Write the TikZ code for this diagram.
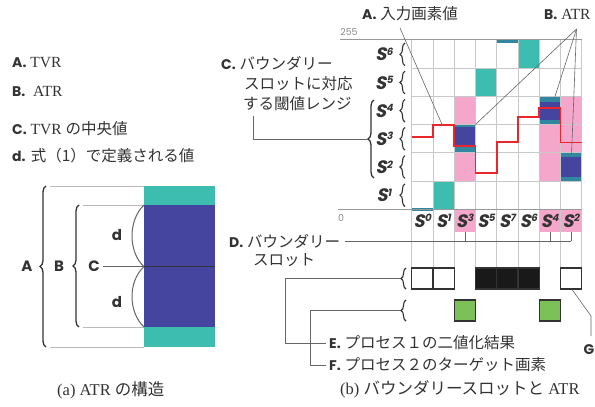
\documentclass[tikz,border=0pt]{standalone}
\usepackage{fontspec}
\setmainfont{Liberation Serif}
\newfontfamily\jp{Noto Sans CJK JP}
\newfontfamily\geo{Poppins}
\newfontfamily\geosl{Poppins}[FakeSlant=0.2]
\usetikzlibrary{decorations.pathreplacing}
\definecolor{tvr}{HTML}{3DBDB0}
\definecolor{atr}{HTML}{45449E}
\definecolor{tvrd}{HTML}{3286A0}
\definecolor{pinkc}{HTML}{F4A7CB}
\definecolor{redl}{HTML}{E8262C}
\definecolor{greenc}{HTML}{7CC157}
\definecolor{gridc}{HTML}{C8C8C8}
\definecolor{txt}{HTML}{333333}
\definecolor{connc}{HTML}{666666}
\definecolor{lgray}{HTML}{BBBBBB}
\newcommand\lab[1]{{\geo\bfseries\fontsize{14}{16}\selectfont #1.}}
\newcommand\Sl[1]{{\geosl\bfseries\fontsize{18}{20}\selectfont S\raisebox{0.3em}{\fontsize{10}{11}\selectfont #1}}}
\begin{document}
\begin{tikzpicture}[x=1pt,y=-1pt,
  lbl/.style={inner sep=0pt, anchor=west, text=txt, font=\fontsize{15.5}{18}\selectfont},
  captxt/.style={inner sep=0pt, anchor=west, text=txt, font=\fontsize{16.5}{19}\selectfont},
  conn/.style={draw=connc, line width=0.6pt},
  gridln/.style={draw=gridc, line width=0.6pt},
  sbrace/.style={decorate, decoration={brace, amplitude=5pt}, draw=txt, line width=1.1pt},
  bbrace/.style={decorate, decoration={brace, amplitude=6pt}, draw=txt, line width=1.3pt},
  binbox/.style={draw=txt, line width=1.3pt},
  slab/.style={inner sep=0pt, text=txt}]
\useasboundingbox (0,0) rectangle (595,407);
\fill[white] (0,0) rectangle (595,407);

% ---------------- (a) ----------------
\node[lbl] (la) at (12,63) {\lab{A} TVR};
\node[lbl] (lb) at (12,91.5) {\lab{B}\ \ ATR};
\node[lbl] (lc) at (12,128.5) {\lab{C} TVR {\jp の中央値}};
\node[lbl] (ld) at (12,156) {\lab{d} {\jp 式（1）で定義される値}};

\fill[tvr] (144,186) rectangle (215,347);
\fill[atr] (144,205) rectangle (215,327);
\draw[lgray, line width=0.8pt] (50,186) -- (144,186);
\draw[lgray, line width=0.8pt] (50,347) -- (144,347);
\draw[lgray, line width=0.8pt] (83,205) -- (144,205);
\draw[lgray, line width=0.8pt] (83,327) -- (144,327);
\draw[connc, line width=0.7pt] (103,266.7) -- (144,266.7);
\draw[txt, line width=0.6pt] (144,266.7) -- (215,266.7);
\draw[connc, line width=1pt] (144,205) .. controls (128,220) and (128,252) .. (144,266.7);
\draw[connc, line width=1pt] (144,266.7) .. controls (128,281) and (128,312) .. (144,327);
\draw[bbrace] (46,347) -- (46,186);
\draw[bbrace] (79,327) -- (79,205);
\node[slab] (bA) at (27,266.7) {\geo\bfseries\fontsize{15}{16}\selectfont A};
\node[slab] (bB) at (59,266.7) {\geo\bfseries\fontsize{15}{16}\selectfont B};
\node[slab] (bC) at (94,266.7) {\geo\bfseries\fontsize{15}{16}\selectfont C};
\node[slab] (d1) at (117,235) {\geo\bfseries\fontsize{15}{16}\selectfont d};
\node[slab] (d2) at (117,302) {\geo\bfseries\fontsize{15}{16}\selectfont d};
\node[captxt] (capa) at (57,390) {(a) ATR {\jp の構造}};

% ---------------- (b) ----------------
% cell fills
\fill[tvr] (432.95,180.83) rectangle (454.2,209);
\fill[tvr] (475.45,68.17) rectangle (496.7,96.33);
\fill[tvr] (517.95,40) rectangle (539.2,68.17);
\fill[tvrd] (496.7,40) rectangle (517.95,42.5);
\fill[tvrd] (411.7,207.5) rectangle (432.95,210.5);
% column S3
\fill[pinkc] (454.2,96.33) rectangle (475.45,124.5);
\fill[pinkc] (454.2,152.67) rectangle (475.45,180.83);
\fill[tvrd] (454.2,124.5) rectangle (475.45,152.67);
\fill[atr] (454.2,127) rectangle (475.45,147);
% column S4
\fill[pinkc] (539.2,124.5) rectangle (560.45,180.83);
\fill[tvrd] (539.2,96.33) rectangle (560.45,124.5);
\fill[atr] (539.2,101.5) rectangle (560.45,120);
% column S2
\fill[pinkc] (560.45,96.33) rectangle (581.7,152.67);
\fill[tvrd] (560.45,152.67) rectangle (581.7,180.83);
\fill[atr] (560.45,157) rectangle (581.7,176.5);
% label row pink
\fill[pinkc] (454.2,209) rectangle (475.45,232);
\fill[pinkc] (539.2,209) rectangle (560.45,232);
\fill[pinkc] (560.45,209) rectangle (581.7,232);

% grid
\foreach \i in {0,...,8} \draw[gridln] ({411.7+21.25*\i},40) -- ({411.7+21.25*\i},268);
\foreach \j in {1,...,5} \draw[gridln] (411.7,{40+28.1667*\j}) -- (581.7,{40+28.1667*\j});
\draw[draw=gray!80, line width=0.8pt] (340,39.5) -- (581.7,39.5);
\draw[draw=gray!80, line width=1pt] (338,209) -- (581.7,209);
\node[slab, text=gray!90] (v255) at (349,32) {\geo\fontsize{9.5}{10}\selectfont 255};
\node[slab, text=gray!90] (v0) at (341,218) {\geo\fontsize{9.5}{10}\selectfont 0};

% red input step line
\draw[redl, line width=1.8pt] (411.7,137) -- (432.95,137) -- (432.95,125) -- (454.2,125) -- (454.2,146) -- (475.45,146) -- (475.45,173) -- (496.7,173) -- (496.7,142) -- (517.95,142) -- (517.95,117) -- (539.2,117) -- (539.2,108) -- (560.45,108) -- (560.45,142.5) -- (581.7,142.5);

% row labels
\foreach \k/\r in {6/0,5/1,4/2,3/3,2/4,1/5} {
  \node[slab] (rs\k) at (384,{40+28.1667*\r+14.5}) {\Sl{\k}};
  \draw[sbrace] (405,{40+28.1667*(\r+1)-2.5}) -- (405,{40+28.1667*\r+3});
}
\draw[bbrace] (374,178) -- (374,100);

% column labels
\foreach \k [count=\c from 0] in {0,1,3,5,7,6,4,2}
  \node[slab] (cs\k) at ({411.7+21.25*\c+10.6},221) {\Sl{\k}};

% binary boxes
\foreach \c/\f in {0/white,1/white,3/black!90,4/black!90,5/black!90,7/white}
  \draw[binbox, fill=\f] ({411.7+21.25*\c},268) rectangle ({411.7+21.25*(\c+1)},289);
\foreach \c in {2,6}
  \draw[binbox, fill=greenc] ({411.7+21.25*\c},300) rectangle ({411.7+21.25*(\c+1)},321);
\draw[sbrace] (406,289) -- (406,268);
\draw[sbrace] (406,321) -- (406,300);

% labels
\node[lbl] (tA) at (362,14) {\lab{A} {\jp 入力画素値}};
\node[lbl] (tB) at (544,14) {\lab{B} ATR};
\node[lbl] (tC1) at (221,63) {\lab{C} {\jp バウンダリー}};
\node[lbl] (tC2) at (244,84) {\jp スロットに対応};
\node[lbl] (tC3) at (243,104) {\jp する閾値レンジ};
\node[lbl] (tD1) at (229,241) {\lab{D} {\jp バウンダリー}};
\node[lbl] (tD2) at (253,260) {\jp スロット};
\node[lbl] (tE) at (329,343) {\lab{E} {\jp プロセス１の二値化結果}};
\node[lbl] (tF) at (329,365) {\lab{F} {\jp プロセス２のターゲット画素}};
\node[lbl, anchor=east] (tG) at (594.5,350) {\geo\bfseries\fontsize{14}{16}\selectfont G};
\node[captxt] (capb) at (340,389) {(b) {\jp バウンダリースロットと} ATR};

% connectors
\coordinate (aS) at (400,28);
\coordinate (aE) at (442,124.5);
\draw[conn] (aS) -- (aE);
\coordinate (bS) at (576.5,29);
\coordinate (b1) at (475.45,124.5);
\coordinate (b2) at (555,96.5);
\coordinate (b3) at (571.5,155);
\draw[conn] (bS) -- (b1);
\draw[conn] (bS) -- (b2);
\draw[conn] (bS) -- (b3);
\coordinate (cS) at (253,116);
\coordinate (cE) at (367.5,139);
\draw[conn] (cS) |- (cE);
\coordinate (dS) at (345,241);
\coordinate (dE) at (571.1,241);
\draw[conn] (dS) -- (dE);
\foreach \x in {464.85,549.85,571.1} \draw[conn] (\x,232) -- (\x,241);
\coordinate (eS) at (400,278.5);
\coordinate (eE) at (326,343);
\draw[conn] (eS) -- (285,278.5) |- (eE);
\coordinate (fS) at (400,310.5);
\coordinate (fE) at (326,365);
\draw[conn] (fS) -- (310,310.5) |- (fE);
\coordinate (gS) at (572,289.5);
\coordinate (gE) at (591,336);
\draw[conn] (gS) -- (591,316) -- (gE);
\end{tikzpicture}
\end{document}
